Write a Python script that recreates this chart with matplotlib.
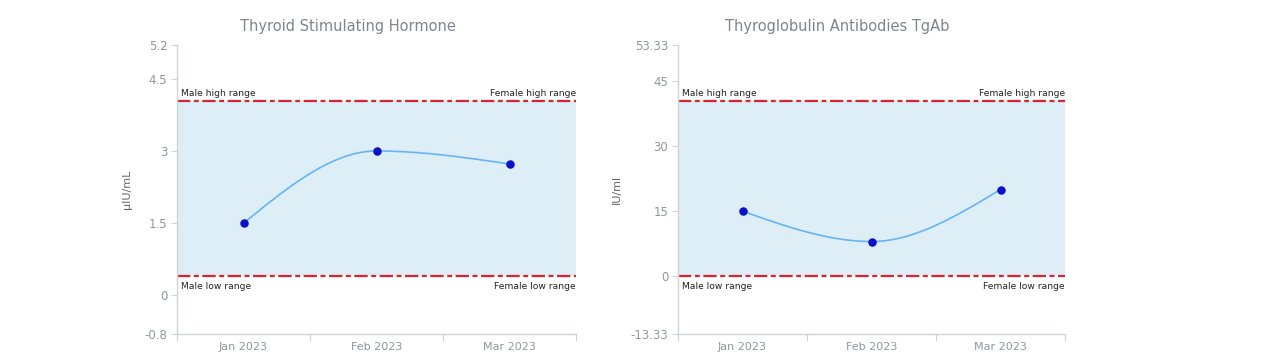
import numpy as np
import matplotlib
matplotlib.use("Agg")
import matplotlib.pyplot as plt
from matplotlib.transforms import offset_copy

months = ["Jan 2023", "Feb 2023", "Mar 2023"]

tsh_values = [1.5, 3.0, 2.73]
tsh_low, tsh_high = 0.4, 4.04
tsh_ticks = [-0.8, 0, 1.5, 3, 4.5, 5.2]

tgab_values = [15, 8, 20]
tgab_low, tgab_high = 0, 40.4
tgab_ticks = [-13.33, 0, 15, 30, 45, 53.33]

GRAY = "#8f979e"
AXIS = "#cfd3d6"


def smooth(x, y, n=200):
    # monotone cubic: flat at local extremes, natural (no bend) at the ends
    x = np.asarray(x, float); y = np.asarray(y, float)
    h = np.diff(x); d = np.diff(y) / h
    m = np.zeros_like(y)
    for k in range(1, len(y) - 1):
        if d[k - 1] * d[k] > 0:
            w1 = 2 * h[k] + h[k - 1]; w2 = h[k] + 2 * h[k - 1]
            m[k] = (w1 + w2) / (w1 / d[k - 1] + w2 / d[k])
    m[0] = (3 * d[0] - m[1]) / 2
    m[-1] = (3 * d[-1] - m[-2]) / 2
    xs, ys = [], []
    for k in range(len(h)):
        t = np.linspace(0, 1, n)
        h00 = 2*t**3 - 3*t**2 + 1; h10 = t**3 - 2*t**2 + t
        h01 = -2*t**3 + 3*t**2; h11 = t**3 - t**2
        xs.append(x[k] + t * h[k])
        ys.append(h00*y[k] + h10*h[k]*m[k] + h01*y[k+1] + h11*h[k]*m[k+1])
    return np.concatenate(xs), np.concatenate(ys)


def draw(ax, values, low, high, ticks, ylabel, labelpad):
    x = np.arange(len(months))
    ax.axhspan(low, high, color="#ddeef6", zorder=0, lw=0)
    for yv in (low, high):
        ax.axhline(yv, color="#d9232e", lw=1.6, dashes=(6, 1.6, 2.2, 1.6), zorder=2)
    xs, ys = smooth(x, values)
    ax.plot(xs, ys, color="#64b5f6", lw=1.2, zorder=3)
    ax.scatter(x, values, s=26, color="#0a10c8", zorder=4)

    ax.set_xlim(-0.5, len(months) - 0.5)
    ax.set_ylim(ticks[0], ticks[-1])
    ax.set_yticks(ticks)
    ax.set_yticklabels([f"{t:g}" for t in ticks])
    ax.set_xticks(np.arange(len(months) + 1) - 0.5)
    ax.set_xticklabels([])
    ax.set_xticks(x, minor=True)
    ax.set_xticklabels(months, minor=True)
    ax.tick_params(axis="x", which="minor", length=0, pad=6, labelsize=8, labelcolor=GRAY)
    ax.tick_params(axis="x", which="major", length=5, color=AXIS)
    ax.tick_params(axis="y", length=4, color=AXIS, labelsize=8.5, labelcolor=GRAY, pad=3)
    for s in ("top", "right"):
        ax.spines[s].set_visible(False)
    for s in ("left", "bottom"):
        ax.spines[s].set_color(AXIS)
        ax.spines[s].set_linewidth(1)
    ax.set_ylabel(ylabel, fontsize=8, color="#5f666d", labelpad=labelpad)

    tr = ax.get_yaxis_transform()
    up = offset_copy(tr, fig=ax.figure, y=3, units="dots")
    down = offset_copy(tr, fig=ax.figure, y=-6, units="dots")
    kw = dict(fontsize=6.6, color="#222222")
    ax.text(0.01, high, "Male high range", ha="left", va="bottom", transform=up, **kw)
    ax.text(1.0, high, "Female high range", ha="right", va="bottom", transform=up, **kw)
    ax.text(0.01, low, "Male low range", ha="left", va="top", transform=down, **kw)
    ax.text(1.0, low, "Female low range", ha="right", va="top", transform=down, **kw)


fig = plt.figure(figsize=(12.8, 3.59), dpi=100)
ax1 = fig.add_axes([177 / 1280, 1 - 334 / 359, 399 / 1280, 289 / 359])
ax2 = fig.add_axes([678 / 1280, 1 - 334 / 359, 387 / 1280, 289 / 359])

draw(ax1, tsh_values, tsh_low, tsh_high, tsh_ticks, "μIU/mL", 9)
draw(ax2, tgab_values, tgab_low, tgab_high, tgab_ticks, "IU/ml", 6)

# titles are centred over the whole chart block, not just the plot area
fig.text(348 / 1280, 1 - 26 / 359, "Thyroid Stimulating Hormone", ha="center", va="center",
         fontsize=10.5, color="#7c868e")
fig.text(837 / 1280, 1 - 26 / 359, "Thyroglobulin Antibodies TgAb", ha="center", va="center",
         fontsize=10.5, color="#7c868e")

fig.savefig("out.png", dpi=100)
